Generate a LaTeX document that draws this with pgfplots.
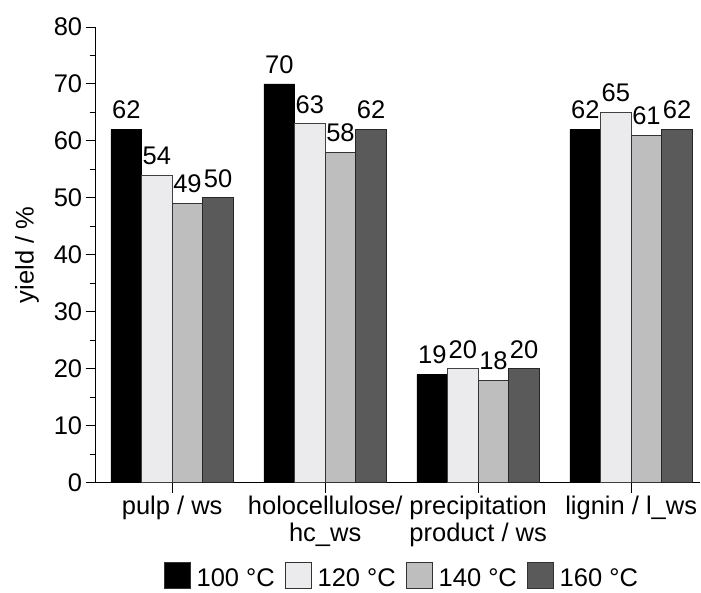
\documentclass[border=0pt]{standalone}
\usepackage{pgfplots}
\pgfplotsset{compat=1.18}
\usepackage{fontspec}
\setmainfont{Liberation Sans}
\definecolor{barA}{HTML}{000000}
\definecolor{barB}{HTML}{EBEBEE}
\definecolor{barC}{HTML}{BEBEBE}
\definecolor{barD}{HTML}{5A5A5A}
\newcommand{\chartfont}{\fontsize{25.5}{27}\selectfont}
\pgfplotsset{
  sqlegend/.style={legend image code/.code={\draw[##1,draw=black!80,line width=0.8pt] (0pt,-10pt) rectangle (26pt,16pt);}},
}
\begin{document}
\begin{tikzpicture}
\useasboundingbox (0,0) rectangle (701pt,593pt);
\begin{axis}[
  at={(95.7pt,110.3pt)}, anchor=south west,
  scale only axis, width=604.3pt, height=455.7pt,
  ybar, bar width=0.2,
  xmin=-0.5, xmax=3.45, ymin=0, ymax=80,
  axis lines*=left,
  axis line style={line width=1pt},
  tick align=outside,
  tick style={line width=1pt, black},
  major tick length=10pt, minor tick length=6pt,
  xtick={0,1,2,3},
  xticklabels={pulp / ws, holocellulose/\\hc\_ws, precipitation\\product / ws, lignin / l\_ws},
  xticklabel style={align=center, font=\chartfont},
  ytick={0,10,...,80}, minor y tick num=1,
  yticklabel style={font=\chartfont},
  /pgf/number format/assume math mode=true,
  ylabel={yield / \%},
  every axis y label/.style={at={(axis description cs:-0.1137,0.5)}, rotate=90, anchor=center, font=\chartfont},
  nodes near coords,
  every node near coord/.append style={font=\chartfont, inner sep=0pt, yshift=10pt},
  legend columns=-1,
  legend style={at={(axis description cs:0.505,-0.204)}, anchor=center, draw=none, fill=none, font=\chartfont,
    nodes={inner xsep=0pt},
    /tikz/every odd column/.append style={column sep=6pt},
    /tikz/every even column/.append style={column sep=10pt}},
]
\addplot[sqlegend, fill=barA, draw=black, line width=0.8pt, bar shift=-0.3] coordinates {(0,62) (1,70) (2,19) (3,62)};
\addplot[sqlegend, fill=barB, draw=black!75, line width=0.8pt, bar shift=-0.1] coordinates {(0,54) (1,63) (2,20) (3,65)};
\addplot[sqlegend, fill=barC, draw=black!80, line width=0.8pt, bar shift=0.1] coordinates {(0,49) (1,58) (2,18) (3,61)};
\addplot[sqlegend, fill=barD, draw=black!85, line width=0.8pt, bar shift=0.3] coordinates {(0,50) (1,62) (2,20) (3,62)};
\legend{100 °C, 120 °C, 140 °C, 160 °C}
\end{axis}
\end{tikzpicture}
\end{document}
